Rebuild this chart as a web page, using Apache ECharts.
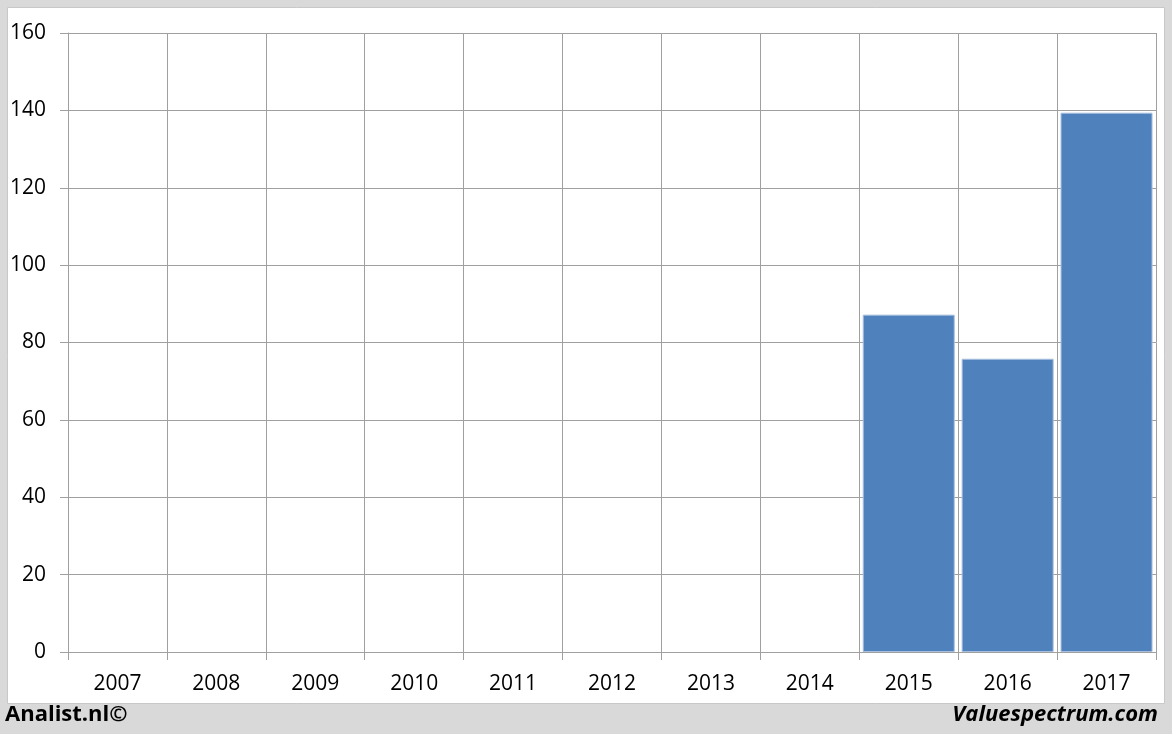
<!DOCTYPE html>
<html><head><meta charset="utf-8">
<script src="https://cdn.jsdelivr.net/npm/echarts@6/dist/echarts.min.js"></script>
<style>html,body{margin:0;padding:0;background:#d9d9d9}#c{width:1172px;height:734px}</style>
</head><body><div id="c"></div>
<script>
const categories = ['2007','2008','2009','2010','2011','2012','2013','2014','2015','2016','2017'];
const values = [null,null,null,null,null,null,null,null,87.2,75.8,139.4];
const yTicks = [0,20,40,60,80,100,120,140,160];
const footerLeft = 'Analist.nl©';
const footerRight = 'Valuespectrum.com';

const chart = echarts.init(document.getElementById('c'));
const font = "'Open Sans', 'Noto Sans', sans-serif";
chart.setOption({
  backgroundColor: '#d9d9d9',
  animation: false,
  graphic: [
    {type:'rect', left:7, top:7, shape:{width:1157, height:696}, style:{fill:'#ffffff', stroke:'#c8c8c8', lineWidth:1}, z:-10},
    {type:'text', left:5, top:704, style:{text:footerLeft, font:"bold 22px 'Open Sans', sans-serif", fill:'#000'}},
    {type:'text', right:14, top:704, style:{text:footerRight, font:"italic bold 22px 'Open Sans', sans-serif", fill:'#000'}}
  ],
  grid: {left:68, right:16, top:33, bottom:82, containLabel:false},
  xAxis: {
    type:'category', data:categories, boundaryGap:true,
    axisLine:{show:true, lineStyle:{color:'#a0a0a0', width:1}},
    axisTick:{show:true, length:8, lineStyle:{color:'#a0a0a0'}},
    splitLine:{show:true, lineStyle:{color:'#a0a0a0', width:1}},
    axisLabel:{color:'#000', fontSize:21, fontFamily:font, margin:22}
  },
  yAxis: {
    type:'value', min:yTicks[0], max:yTicks[yTicks.length-1], interval:20,
    axisLine:{show:true, lineStyle:{color:'#a0a0a0'}},
    axisTick:{show:true, length:8, lineStyle:{color:'#a0a0a0'}},
    splitLine:{show:true, lineStyle:{color:'#a0a0a0', width:1}},
    axisLabel:{color:'#000', fontSize:21, fontFamily:font, margin:22}
  },
  series: [{
    type:'bar', data:values, barCategoryGap:'7%',
    itemStyle:{color:'#4f81bd', borderColor:'#a7bfde', borderWidth:1}
  }]
});
</script></body></html>
